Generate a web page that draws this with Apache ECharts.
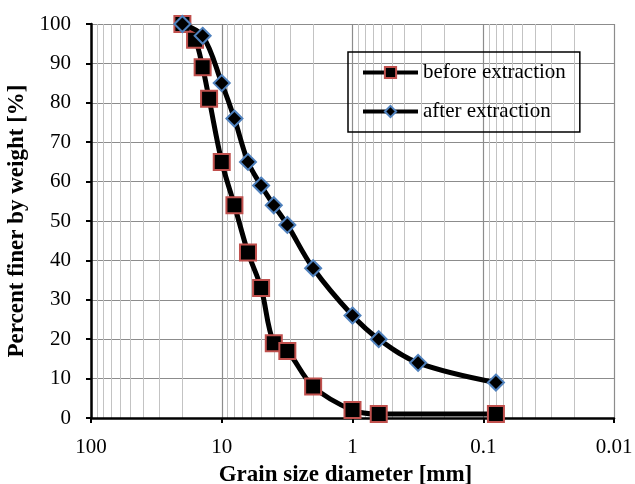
<!DOCTYPE html>
<html>
<head>
<meta charset="utf-8">
<script src="https://cdn.jsdelivr.net/npm/echarts@6/dist/echarts.min.js"></script>
<style>
  html, body { margin: 0; padding: 0; background: #fff; }
  #grading { width: 635px; height: 484px; }
</style>
</head>
<body>
<div id="grading"></div>
<script>
// sieve sizes [mm] and percent passing
var beforeSize = [20, 16, 14, 12.5, 10, 8, 6.3, 5, 4, 3.15, 2, 1, 0.63, 0.08];
var beforePass = [100, 96, 89, 81, 65, 54, 42, 33, 19, 17, 8, 2, 1, 1];
var afterSize = [20, 14, 10, 8, 6.3, 5, 4, 3.15, 2, 1, 0.63, 0.315, 0.08];
var afterPass = [100, 97, 85, 76, 65, 59, 54, 49, 38, 26, 20, 14, 9];
var seriesNames = ['before extraction', 'after extraction'];
// light vertical grid lines between the decades
var minorGrid = [90, 80, 70, 60, 50, 40, 30, 20,
                 9, 8, 7, 6, 5, 4, 3, 2,
                 0.9, 0.8, 0.7, 0.6, 0.5, 0.4, 0.3, 0.2,
                 0.09, 0.08, 0.07, 0.06, 0.05, 0.04, 0.03, 0.02];

window.onload = function () {
    showChart();
};

function pairs(xs, ys) {
    return xs.map(function (x, i) { return [x, ys[i]]; });
}

function showChart() {
    var myChart = echarts.init(document.getElementById('grading'));
    var serif = 'Liberation Serif';

    var option = {
        animation: false,
        grid: {
            left: 91,
            right: 21,
            top: 24,
            bottom: 66,
            outerBoundsMode: 'none'
        },
        legend: {
            orient: 'vertical',
            left: 348,
            top: 52,
            padding: [10, 14, 10, 13],
            itemGap: 18,
            itemWidth: 55,
            itemHeight: 14,
            borderColor: '#000',
            borderWidth: 1.5,
            lineStyle: { width: 4 },
            textStyle: {
                fontFamily: serif,
                fontSize: 21,
                color: '#000'
            },
            data: seriesNames
        },
        xAxis: {
            type: 'log',
            logBase: 10,
            min: 0.01,
            max: 100,
            inverse: true,
            name: 'Grain size diameter [mm]',
            nameLocation: 'middle',
            nameGap: 46,
            nameTextStyle: {
                fontFamily: serif,
                fontSize: 23,
                fontWeight: 'bold',
                color: '#000',
                padding: [0, 14, 0, 0]
            },
            axisLine: {
                onZero: false,
                lineStyle: { color: '#000', width: 2.5 }
            },
            axisTick: {
                show: true,
                inside: false,
                length: 5,
                lineStyle: { color: '#000', width: 2 }
            },
            axisLabel: {
                fontFamily: serif,
                fontSize: 21,
                color: '#000',
                margin: 19,
                formatter: function (v) { return String(v); }
            },
            splitLine: {
                show: true,
                lineStyle: { color: '#8c8c8c', width: 1.2 }
            }
        },
        yAxis: {
            type: 'value',
            min: 0,
            max: 100,
            interval: 10,
            name: 'Percent finer by weight [%]',
            nameLocation: 'middle',
            nameGap: 57,
            nameTextStyle: {
                fontFamily: serif,
                fontSize: 23,
                fontWeight: 'bold',
                color: '#000'
            },
            axisLine: {
                show: true,
                lineStyle: { color: '#000', width: 2.5 }
            },
            axisTick: {
                show: true,
                inside: false,
                length: 5,
                lineStyle: { color: '#000', width: 2 }
            },
            axisLabel: {
                fontFamily: serif,
                fontSize: 21,
                color: '#000',
                margin: 20
            },
            splitLine: {
                show: true,
                lineStyle: { color: '#8c8c8c', width: 1.2 }
            }
        },
        series: [
            {
                // carries only the minor vertical grid lines
                name: 'minor grid',
                type: 'line',
                data: [],
                silent: true,
                z: 0,
                markLine: {
                    silent: true,
                    symbol: 'none',
                    z: 0,
                    label: { show: false },
                    lineStyle: { color: '#c3c3c3', width: 1, type: 'solid' },
                    emphasis: { disabled: true },
                    data: minorGrid.map(function (v) { return { xAxis: v }; })
                }
            },
            {
                name: seriesNames[0],
                type: 'line',
                smooth: 0.35,
                symbol: 'rect',
                symbolSize: 16,
                z: 3,
                lineStyle: { color: '#000', width: 5 },
                itemStyle: { color: '#000', borderColor: '#c0504d', borderWidth: 2 },
                data: pairs(beforeSize, beforePass)
            },
            {
                name: seriesNames[1],
                type: 'line',
                smooth: 0.35,
                symbol: 'diamond',
                symbolSize: 16,
                z: 4,
                lineStyle: { color: '#000', width: 5 },
                itemStyle: { color: '#000', borderColor: '#4f81bd', borderWidth: 2 },
                data: pairs(afterSize, afterPass)
            }
        ]
    };

    myChart.setOption(option);
}
</script>
</body>
</html>
